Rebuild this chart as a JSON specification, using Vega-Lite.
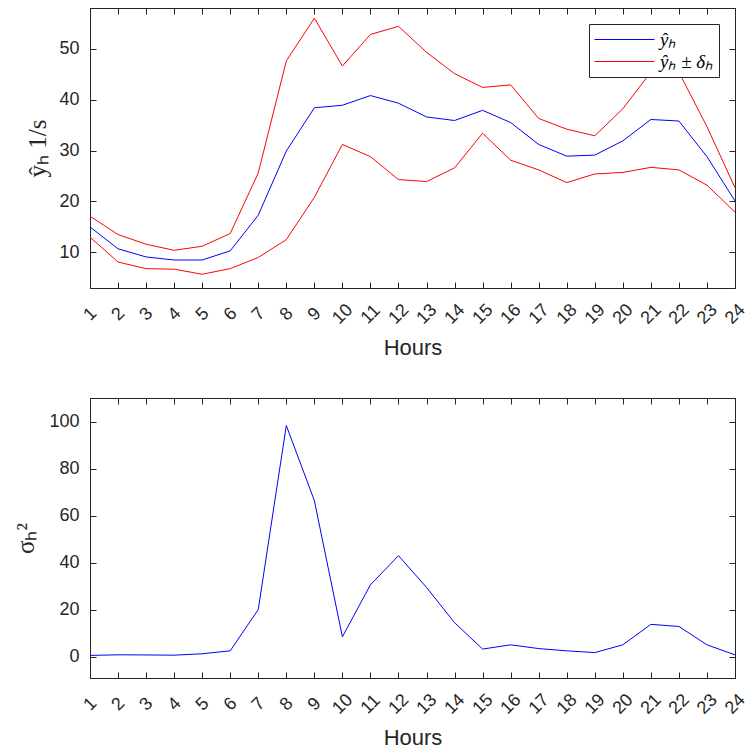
{
  "$schema": "https://vega.github.io/schema/vega-lite/v6.json",
  "padding": {"left": 13, "top": 7, "right": 0, "bottom": 5},
  "background": "white",
  "spacing": 110,
  "bounds": "flush",
  "datasets": {
    "flow": [
      {"hour":1,"series":"ŷₕ","band":"mid","value":15.0},
      {"hour":2,"series":"ŷₕ","band":"mid","value":10.7},
      {"hour":3,"series":"ŷₕ","band":"mid","value":9.1},
      {"hour":4,"series":"ŷₕ","band":"mid","value":8.5},
      {"hour":5,"series":"ŷₕ","band":"mid","value":8.5},
      {"hour":6,"series":"ŷₕ","band":"mid","value":10.3},
      {"hour":7,"series":"ŷₕ","band":"mid","value":17.3},
      {"hour":8,"series":"ŷₕ","band":"mid","value":29.9},
      {"hour":9,"series":"ŷₕ","band":"mid","value":38.4},
      {"hour":10,"series":"ŷₕ","band":"mid","value":38.9},
      {"hour":11,"series":"ŷₕ","band":"mid","value":40.8},
      {"hour":12,"series":"ŷₕ","band":"mid","value":39.3},
      {"hour":13,"series":"ŷₕ","band":"mid","value":36.6},
      {"hour":14,"series":"ŷₕ","band":"mid","value":35.9},
      {"hour":15,"series":"ŷₕ","band":"mid","value":37.9},
      {"hour":16,"series":"ŷₕ","band":"mid","value":35.5},
      {"hour":17,"series":"ŷₕ","band":"mid","value":31.2},
      {"hour":18,"series":"ŷₕ","band":"mid","value":28.9},
      {"hour":19,"series":"ŷₕ","band":"mid","value":29.1},
      {"hour":20,"series":"ŷₕ","band":"mid","value":31.9},
      {"hour":21,"series":"ŷₕ","band":"mid","value":36.1},
      {"hour":22,"series":"ŷₕ","band":"mid","value":35.8},
      {"hour":23,"series":"ŷₕ","band":"mid","value":28.8},
      {"hour":24,"series":"ŷₕ","band":"mid","value":20.1},
      {"hour":1,"series":"ŷₕ ± δₕ","band":"upper","value":17.1},
      {"hour":2,"series":"ŷₕ ± δₕ","band":"upper","value":13.5},
      {"hour":3,"series":"ŷₕ ± δₕ","band":"upper","value":11.6},
      {"hour":4,"series":"ŷₕ ± δₕ","band":"upper","value":10.4},
      {"hour":5,"series":"ŷₕ ± δₕ","band":"upper","value":11.2},
      {"hour":6,"series":"ŷₕ ± δₕ","band":"upper","value":13.7},
      {"hour":7,"series":"ŷₕ ± δₕ","band":"upper","value":25.6},
      {"hour":8,"series":"ŷₕ ± δₕ","band":"upper","value":47.6},
      {"hour":9,"series":"ŷₕ ± δₕ","band":"upper","value":56.0},
      {"hour":10,"series":"ŷₕ ± δₕ","band":"upper","value":46.6},
      {"hour":11,"series":"ŷₕ ± δₕ","band":"upper","value":52.8},
      {"hour":12,"series":"ŷₕ ± δₕ","band":"upper","value":54.4},
      {"hour":13,"series":"ŷₕ ± δₕ","band":"upper","value":49.3},
      {"hour":14,"series":"ŷₕ ± δₕ","band":"upper","value":45.1},
      {"hour":15,"series":"ŷₕ ± δₕ","band":"upper","value":42.4},
      {"hour":16,"series":"ŷₕ ± δₕ","band":"upper","value":42.9},
      {"hour":17,"series":"ŷₕ ± δₕ","band":"upper","value":36.3},
      {"hour":18,"series":"ŷₕ ± δₕ","band":"upper","value":34.2},
      {"hour":19,"series":"ŷₕ ± δₕ","band":"upper","value":32.9},
      {"hour":20,"series":"ŷₕ ± δₕ","band":"upper","value":38.2},
      {"hour":21,"series":"ŷₕ ± δₕ","band":"upper","value":45.4},
      {"hour":22,"series":"ŷₕ ± δₕ","band":"upper","value":45.4},
      {"hour":23,"series":"ŷₕ ± δₕ","band":"upper","value":34.7},
      {"hour":24,"series":"ŷₕ ± δₕ","band":"upper","value":22.7},
      {"hour":1,"series":"ŷₕ ± δₕ","band":"lower","value":13.0},
      {"hour":2,"series":"ŷₕ ± δₕ","band":"lower","value":8.1},
      {"hour":3,"series":"ŷₕ ± δₕ","band":"lower","value":6.8},
      {"hour":4,"series":"ŷₕ ± δₕ","band":"lower","value":6.7},
      {"hour":5,"series":"ŷₕ ± δₕ","band":"lower","value":5.7},
      {"hour":6,"series":"ŷₕ ± δₕ","band":"lower","value":6.8},
      {"hour":7,"series":"ŷₕ ± δₕ","band":"lower","value":9.0},
      {"hour":8,"series":"ŷₕ ± δₕ","band":"lower","value":12.5},
      {"hour":9,"series":"ŷₕ ± δₕ","band":"lower","value":20.8},
      {"hour":10,"series":"ŷₕ ± δₕ","band":"lower","value":31.2},
      {"hour":11,"series":"ŷₕ ± δₕ","band":"lower","value":28.8},
      {"hour":12,"series":"ŷₕ ± δₕ","band":"lower","value":24.3},
      {"hour":13,"series":"ŷₕ ± δₕ","band":"lower","value":23.9},
      {"hour":14,"series":"ŷₕ ± δₕ","band":"lower","value":26.6},
      {"hour":15,"series":"ŷₕ ± δₕ","band":"lower","value":33.4},
      {"hour":16,"series":"ŷₕ ± δₕ","band":"lower","value":28.1},
      {"hour":17,"series":"ŷₕ ± δₕ","band":"lower","value":26.2},
      {"hour":18,"series":"ŷₕ ± δₕ","band":"lower","value":23.7},
      {"hour":19,"series":"ŷₕ ± δₕ","band":"lower","value":25.4},
      {"hour":20,"series":"ŷₕ ± δₕ","band":"lower","value":25.7},
      {"hour":21,"series":"ŷₕ ± δₕ","band":"lower","value":26.7},
      {"hour":22,"series":"ŷₕ ± δₕ","band":"lower","value":26.2},
      {"hour":23,"series":"ŷₕ ± δₕ","band":"lower","value":23.2},
      {"hour":24,"series":"ŷₕ ± δₕ","band":"lower","value":17.9}
    ],
    "variance": [
      {"hour":1,"s2":0.6},{"hour":2,"s2":0.85},{"hour":3,"s2":0.8},{"hour":4,"s2":0.7},
      {"hour":5,"s2":1.3},{"hour":6,"s2":2.55},{"hour":7,"s2":20.1},{"hour":8,"s2":98.3},
      {"hour":9,"s2":66.4},{"hour":10,"s2":8.5},{"hour":11,"s2":30.6},{"hour":12,"s2":43.0},
      {"hour":13,"s2":29.5},{"hour":14,"s2":14.5},{"hour":15,"s2":3.3},{"hour":16,"s2":5.1},
      {"hour":17,"s2":3.5},{"hour":18,"s2":2.55},{"hour":19,"s2":1.8},{"hour":20,"s2":5.1},
      {"hour":21,"s2":13.8},{"hour":22,"s2":12.9},{"hour":23,"s2":5.1},{"hour":24,"s2":0.85}
    ]
  },
  "vconcat": [
    {
      "width": 645,
      "height": 280,
      "data": {"name": "flow"},
      "layer": [
        {
          "mark": {"type": "line", "strokeWidth": 1},
          "encoding": {
            "x": {"field": "hour", "type": "quantitative", "scale": {"domain": [1, 24], "nice": false, "zero": false},
                  "axis": {"values": [1,2,3,4,5,6,7,8,9,10,11,12,13,14,15,16,17,18,19,20,21,22,23,24], "title": "Hours", "labelAngle": -45, "labelAlign": "center", "labelBaseline": "middle", "labelPadding": 32, "titlePadding": 10}},
            "y": {"field": "value", "type": "quantitative", "scale": {"domain": [3, 58], "nice": false, "zero": false},
                  "axis": {"values": [10, 20, 30, 40, 50], "title": "ŷₕ 1/s", "titleFont": "Liberation Serif", "titleFontSize": 25, "titlePadding": 8}},
            "color": {"field": "series", "type": "nominal", "scale": {"domain": ["ŷₕ", "ŷₕ ± δₕ"], "range": ["#0000ff", "#ff0000"]},
                      "legend": {"title": null, "encode": {"symbols": {"update": {"shape": {"value": "M-1,0L5,0"}}}}}},
            "detail": {"field": "band", "type": "nominal"}
          }
        },
        {
          "mark": {"type": "line", "strokeOpacity": 0},
          "encoding": {
            "x": {"field": "hour", "type": "quantitative", "axis": {"orient": "top", "values": [1,2,3,4,5,6,7,8,9,10,11,12,13,14,15,16,17,18,19,20,21,22,23,24], "labels": false, "title": null}},
            "y": {"field": "value", "type": "quantitative", "axis": {"orient": "right", "values": [10, 20, 30, 40, 50], "labels": false, "title": null}},
            "detail": {"field": "band", "type": "nominal"}
          }
        }
      ],
      "resolve": {"axis": {"x": "independent", "y": "independent"}}
    },
    {
      "width": 645,
      "height": 280,
      "data": {"name": "variance"},
      "layer": [
        {
          "mark": {"type": "line", "strokeWidth": 1, "color": "#0000ff"},
          "encoding": {
            "x": {"field": "hour", "type": "quantitative", "scale": {"domain": [1, 24], "nice": false, "zero": false},
                  "axis": {"values": [1,2,3,4,5,6,7,8,9,10,11,12,13,14,15,16,17,18,19,20,21,22,23,24], "title": "Hours", "labelAngle": -45, "labelAlign": "center", "labelBaseline": "middle", "labelPadding": 32, "titlePadding": 10}},
            "y": {"field": "s2", "type": "quantitative", "scale": {"domain": [-9, 110], "nice": false, "zero": false},
                  "axis": {"values": [0, 20, 40, 60, 80, 100], "title": "σₕ²", "titleFont": "Liberation Serif", "titleFontSize": 25, "titlePadding": 10}}
          }
        },
        {
          "mark": {"type": "line", "strokeOpacity": 0},
          "encoding": {
            "x": {"field": "hour", "type": "quantitative", "axis": {"orient": "top", "values": [1,2,3,4,5,6,7,8,9,10,11,12,13,14,15,16,17,18,19,20,21,22,23,24], "labels": false, "title": null}},
            "y": {"field": "s2", "type": "quantitative", "axis": {"orient": "right", "values": [0, 20, 40, 60, 80, 100], "labels": false, "title": null}}
          }
        }
      ],
      "resolve": {"axis": {"x": "independent", "y": "independent"}}
    }
  ],
  "config": {
    "view": {"stroke": "#262626", "strokeWidth": 1},
    "axis": {
      "grid": false,
      "domainColor": "#262626",
      "tickColor": "#262626",
      "labelColor": "#262626",
      "titleColor": "#262626",
      "labelFont": "Liberation Sans",
      "titleFont": "Liberation Sans",
      "labelFontSize": 18,
      "titleFontSize": 22,
      "titleFontWeight": "normal",
      "tickSize": -6,
      "labelPadding": 17
    },
    "legend": {
      "orient": "none",
      "legendX": 499,
      "legendY": 16,
      "strokeColor": "#262626",
      "fillColor": "white",
      "padding": 5,
      "labelFont": "Liberation Serif",
      "labelFontStyle": "italic",
      "labelFontSize": 19,
      "labelColor": "#000000",
      "symbolType": "stroke",
      "symbolSize": 400,
      "symbolStrokeWidth": 1,
      "labelOffset": 45,
      "rowPadding": 1
    }
  }
}
